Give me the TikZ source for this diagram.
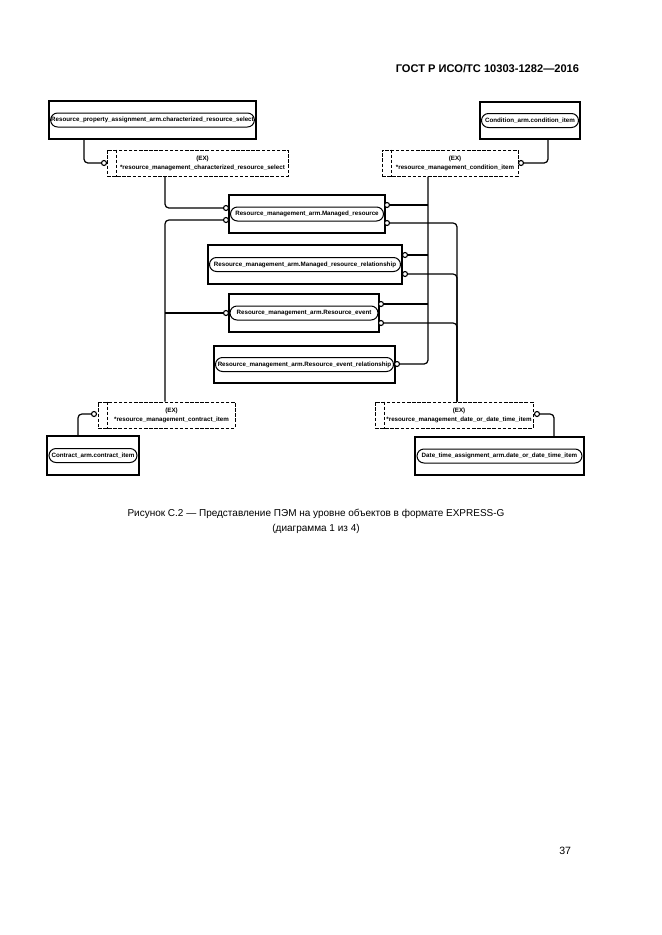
\documentclass[tikz,border=0pt]{standalone}
\usepackage{fontspec}
\setmainfont{Liberation Sans}
\usepackage{tikz}
\usetikzlibrary{calc}
\usetikzlibrary{shapes.misc}
\newcommand{\pxu}{0.9006pt}
\tikzset{ent/.style 2 args={draw,line width=1.4pt,minimum width=#1*\pxu,minimum height=#2*\pxu,inner sep=0pt}}
\tikzset{pill/.style={draw,rounded rectangle,line width=0.9pt,minimum width=#1*\pxu,minimum height=14*\pxu,inner sep=0pt,font=\fontsize{5.6}{6}\selectfont\bfseries}}
\tikzset{sel/.style 2 args={draw,line width=0.9pt,dash pattern=on 3.2pt off 1.4pt,minimum width=#1*\pxu,minimum height=#2*\pxu,inner sep=0pt}}
\tikzset{seldash/.style={line width=0.9pt,dash pattern=on 3.2pt off 1.4pt}}
\tikzset{seltxt/.style={align=center,inner sep=0pt,font=\fontsize{5.6}{8}\selectfont\bfseries}}
\tikzset{dot/.style={draw,circle,fill=white,line width=1pt,inner sep=0pt,minimum size=5*\pxu}}
\tikzset{conn/.style={line width=1.1pt,rounded corners=3.5pt}}

\begin{document}
\begin{tikzpicture}[x=\pxu,y=-\pxu]
\useasboundingbox (0,0) rectangle (661,935);
\node[anchor=east,font=\fontsize{10}{12}\selectfont\bfseries] (hdr) at (583,69) {ГОСТ Р ИСО/ТС 10303-1282—2016};
\node[ent={207}{38}] (tl) at (152.5,120) {};
\node[pill=203] (tl-p) at (tl) {Resource\_property\_assignment\_arm.characterized\_resource\_select};
\node[ent={100}{37}] (tr) at (530,120.5) {};
\node[pill=97] (tr-p) at (tr) {Condition\_arm.condition\_item};
\node[sel={181}{26}] (sl) at (197.5,163) {};
\node[sel={136}{26}] (sr) at (450,163) {};
\node[ent={156}{38}] (mr) at (307,214) {};
\node[pill=153] (mr-p) at (mr) {Resource\_management\_arm.Managed\_resource};
\node[ent={194}{39}] (mrr) at (305,264.5) {};
\node[pill=191] (mrr-p) at (mrr) {Resource\_management\_arm.Managed\_resource\_relationship};
\node[ent={150}{38}] (re) at (304,313) {};
\node[pill=148] (re-p) at (re) {Resource\_management\_arm.Resource\_event};
\node[ent={181}{37}] (rer) at (304.5,364.5) {};
\node[pill=178] (rer-p) at (rer) {Resource\_management\_arm.Resource\_event\_relationship};
\node[sel={137}{26}] (sbl) at (166.5,415) {};
\node[sel={158}{26}] (sbr) at (454,415) {};
\node[ent={92}{39}] (bl) at (93,455.5) {};
\node[pill=88] (bl-p) at (bl) {Contract\_arm.contract\_item};
\node[ent={169}{38}] (br) at (499.5,456) {};
\node[pill=165] (br-p) at (br) {Date\_time\_assignment\_arm.date\_or\_date\_time\_item};
\foreach \s/\t in {sl/characterized\_resource\_select,sr/condition\_item,sbl/contract\_item,sbr/date\_or\_date\_time\_item}{
\draw[seldash] ([xshift=10*\pxu]\s.north west) -- ([xshift=10*\pxu]\s.south west);
\node[seltxt] (\s-t) at ([xshift=5*\pxu]\s.center) {(EX)\\*resource\_management\_\t};
}
\node[dot] (c-sl) at (104,163) {};
\node[dot] (c-sr) at (521,163) {};
\node[dot] (c-mr1) at (226,208) {};
\node[dot] (c-mr2) at (226,220) {};
\node[dot] (c-mr3) at (387,205) {};
\node[dot] (c-mr4) at (387,223) {};
\node[dot] (c-mrr1) at (405,255) {};
\node[dot] (c-mrr2) at (405,274) {};
\node[dot] (c-re1) at (226,313) {};
\node[dot] (c-re2) at (381,304) {};
\node[dot] (c-re3) at (381,323) {};
\node[dot] (c-rer) at (397,364) {};
\node[dot] (c-sbl) at (94,414) {};
\node[dot] (c-sbr) at (537,414) {};
\coordinate (xa) at (428,0);
\coordinate (xb) at (457,0);
\coordinate (xl) at (165,0);
\coordinate (xtl) at (84,0);
\coordinate (xtr) at (548,0);
\coordinate (xbl) at (78,0);
\coordinate (xbr) at (554,0);
\draw[conn] (tl.south -| xtl) |- (c-sl);
\draw[conn] (tr.south -| xtr) |- (c-sr);
\draw[conn] (sl.south -| xl) |- (c-mr1);
\draw[conn] (c-mr2) -| (sbl.north -| xl);
\draw[conn] (c-re1) -- (c-re1 -| xl);
\draw[conn] (sr.south -| xa) |- (c-rer);
\foreach \c in {c-mr3,c-mrr1,c-re2} \draw[conn] (\c) -- (\c -| xa);
\foreach \c in {c-mr4,c-mrr2,c-re3} \draw[conn] (\c) -| (sbr.north -| xb);
\draw[conn] (c-sbl) -| (bl.north -| xbl);
\draw[conn] (c-sbr) -| (br.north -| xbr);
\node[font=\fontsize{9}{13.5}\selectfont,align=center] (cap) at (316,521) {Рисунок С.2 — Представление ПЭМ на уровне объектов в формате EXPRESS-G\\(диаграмма 1 из 4)};
\node[font=\fontsize{9.5}{12}\selectfont,anchor=east] (pg) at (575,851) {37};
\end{tikzpicture}
\end{document}
